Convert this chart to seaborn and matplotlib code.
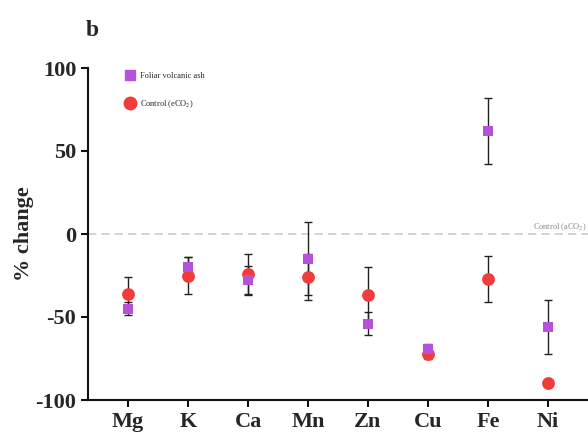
import matplotlib
matplotlib.use("Agg")
import matplotlib.pyplot as plt
import seaborn as sns
import pandas as pd
import numpy as np

elements = ["Mg", "K", "Ca", "Mn", "Zn", "Cu", "Fe", "Ni"]
ash_vals = [-45, -20, -28, -15, -54, -69, 62, -56]
ash_err = [4, 6, 9, 22, 7, 3, 20, 16]
ctrl_vals = [-36, -25, -24, -26, -37, -72, -27, -90]
ctrl_err = [10, 11, 12, 14, 17, 3, 14, 0]
yticks = [-100, -50, 0, 50, 100]

sns.set_style("ticks")
plt.rcParams["font.family"] = ["Liberation Serif", "DejaVu Serif"]
plt.rcParams["mathtext.fontset"] = "stix"

fig = plt.figure(figsize=(5.88, 4.33), dpi=100)
ax = fig.add_axes([88 / 588, 33 / 433, 500 / 588, 332 / 433])

purple = "#B552D9"
red = "#F23B3B"

x = np.arange(len(elements))
ash_df = pd.DataFrame({"x": x, "value": ash_vals})
ctrl_df = pd.DataFrame({"x": x, "value": ctrl_vals})

ax.axhline(0, color="#cccccc", lw=1.2, ls=(0, (5, 3)), zorder=0)

ax.errorbar(x, ctrl_vals, yerr=ctrl_err, fmt="none", ecolor="#222222",
            elinewidth=1.0, capsize=3, capthick=1.0, zorder=1)
ax.errorbar(x, ash_vals, yerr=ash_err, fmt="none", ecolor="#222222",
            elinewidth=1.0, capsize=3, capthick=1.0, zorder=1)

sns.scatterplot(data=ctrl_df, x="x", y="value", marker="o", color=red,
                s=85, linewidth=0, ax=ax, zorder=3)
sns.scatterplot(data=ash_df, x="x", y="value", marker="s", color=purple,
                s=50, linewidth=0, ax=ax, zorder=4)

# legend
lh = [
    plt.Line2D([], [], marker="s", color=purple, ls="none", markersize=7),
    plt.Line2D([], [], marker="o", color=red, ls="none", markersize=9),
]
ax.legend(lh, ["Foliar volcanic ash", "Control (eCO$_2$)"], loc="upper left",
          bbox_to_anchor=(0.06, 1.01), frameon=False, fontsize=6,
          labelspacing=2.2, handletextpad=0.8, handlelength=1.0)

ax.text(0.998, 0.503, "Control (aCO$_2$)", fontsize=6, color="#888888",
        ha="right", va="bottom", transform=ax.transAxes)

ax.set_xlim(-0.667, 7.667)
ax.set_ylim(-100, 100)
ax.set_xticks(x)
ax.set_xticklabels(elements, fontsize=16, fontweight="bold")
ax.set_yticks(yticks)
ax.set_yticklabels([str(v) for v in yticks], fontsize=16, fontweight="bold")
ax.set_xlabel("")
ax.set_ylabel("% change", fontsize=16, fontweight="bold", labelpad=1)
ax.tick_params(axis="both", width=1.5, length=5, color="#111111")
for side in ["left", "bottom"]:
    ax.spines[side].set_linewidth(1.5)
    ax.spines[side].set_color("#111111")
ax.spines["top"].set_visible(False)
ax.spines["right"].set_visible(False)

fig.text(86 / 588, 1 - 30 / 433, "b", fontsize=17, fontweight="bold", ha="left", va="center")

fig.savefig("out.png", dpi=100)
